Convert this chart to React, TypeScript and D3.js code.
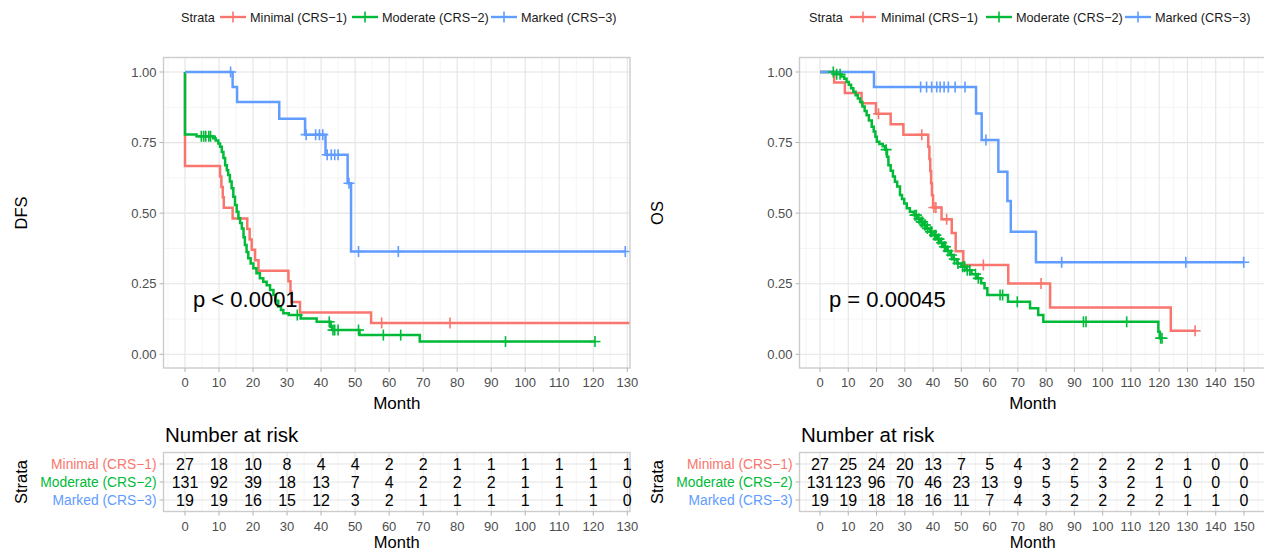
import React from 'react';
import * as d3 from 'd3';

const FONT = "'Liberation Sans', Arial, Helvetica, sans-serif";
const COLORS = ['#F8766D', '#00BA38', '#619CFF'];
const STRATA = ['Minimal (CRS\u22121)', 'Moderate (CRS\u22122)', 'Marked (CRS\u22123)'];

// ---------- DFS ----------
const dfsMinimalTimes = [0, 10.3, 10.7, 11.1, 11.4, 14.0, 18.3, 19.0, 19.6, 20.6, 21.6, 30.4, 31.0, 31.3, 33.8, 54.7];
const dfsMinimalSurv = [0.667, 0.630, 0.593, 0.556, 0.519, 0.481, 0.444, 0.407, 0.370, 0.333, 0.296, 0.259, 0.222, 0.185, 0.148, 0.111];
const dfsMinimalCensor = [57.8, 77.9];
const dfsMinimalEnd = 140;

const dfsModerateTimes = [0, 3.4, 8.3, 9.0, 9.8, 10.3, 10.8, 11.3, 11.8, 12.3, 12.7, 13.2, 13.7, 14.2, 14.7, 15.2, 15.7, 16.2, 16.7, 17.2, 17.6, 18.1, 18.6, 19.3, 20.1, 21.0, 22.0, 23.0, 24.0, 25.0, 26.0, 26.7, 27.4, 28.2, 28.9, 30.5, 34.0, 38.7, 42.8, 43.2, 51.3, 69.0];
const dfsModerateSurv = [0.779, 0.772, 0.765, 0.757, 0.747, 0.735, 0.717, 0.695, 0.670, 0.652, 0.635, 0.612, 0.588, 0.558, 0.529, 0.505, 0.482, 0.465, 0.446, 0.415, 0.387, 0.362, 0.340, 0.322, 0.305, 0.287, 0.269, 0.257, 0.245, 0.228, 0.210, 0.190, 0.169, 0.157, 0.145, 0.139, 0.127, 0.115, 0.098, 0.086, 0.068, 0.045];
const dfsModerateCensor = [4.8, 5.5, 6.1, 7.0, 7.5, 33.0, 42.4, 43.5, 44.0, 45.0, 51.0, 58.3, 63.4, 94.2, 120.5];
const dfsModerateEnd = 120.5;

const dfsMarkedTimes = [14.0, 15.3, 27.7, 35.3, 41.3, 47.8, 48.8];
const dfsMarkedSurv = [0.947, 0.894, 0.834, 0.778, 0.707, 0.606, 0.364];
const dfsMarkedCensor = [13.4, 35.6, 38.4, 39.5, 40.5, 41.8, 43.0, 44.0, 45.0, 48.2, 51.0, 62.7, 129.4];
const dfsMarkedEnd = 129.4;

const dfsRiskTimes = [0, 10, 20, 30, 40, 50, 60, 70, 80, 90, 100, 110, 120, 130];
const dfsRiskMinimal = [27, 18, 10, 8, 4, 4, 2, 2, 1, 1, 1, 1, 1, 1];
const dfsRiskModerate = [131, 92, 39, 18, 13, 7, 4, 2, 2, 2, 1, 1, 1, 0];
const dfsRiskMarked = [19, 19, 16, 15, 12, 3, 2, 1, 1, 1, 1, 1, 1, 0];

// ---------- OS ----------
const osMinimalTimes = [5.0, 8.8, 14.7, 19.8, 25.0, 29.5, 38.3, 38.7, 39.0, 39.3, 39.6, 40.0, 43.0, 46.6, 48.0, 50.7, 66.6, 81.4, 124.1];
const osMinimalSurv = [0.963, 0.926, 0.889, 0.852, 0.815, 0.778, 0.735, 0.692, 0.649, 0.606, 0.563, 0.520, 0.478, 0.430, 0.365, 0.316, 0.251, 0.166, 0.083];
const osMinimalCensor = [20.7, 36.0, 40.3, 41.0, 44.8, 57.8, 78.2, 132.7];
const osMinimalEnd = 132.7;

const osModerateTimes = [5.5, 7.5, 8.6, 9.4, 10.2, 11.0, 11.8, 12.6, 13.4, 14.2, 15.0, 15.8, 16.5, 17.3, 18.3, 19.0, 19.6, 20.1, 21.0, 22.2, 23.0, 23.7, 24.2, 25.0, 25.8, 26.5, 27.3, 28.3, 29.0, 29.8, 30.7, 31.8, 33.2, 34.5, 35.5, 36.6, 37.6, 38.8, 40.1, 41.4, 42.4, 43.6, 44.9, 46.1, 47.2, 48.4, 50.0, 51.9, 53.6, 55.4, 57.0, 58.2, 59.2, 66.5, 74.3, 77.2, 79.0, 119.7, 120.2];
const osModerateSurv = [0.992, 0.984, 0.976, 0.965, 0.955, 0.942, 0.930, 0.918, 0.906, 0.894, 0.878, 0.862, 0.847, 0.828, 0.806, 0.789, 0.771, 0.753, 0.745, 0.737, 0.725, 0.700, 0.670, 0.650, 0.630, 0.611, 0.594, 0.564, 0.550, 0.534, 0.517, 0.505, 0.493, 0.480, 0.469, 0.458, 0.446, 0.434, 0.422, 0.408, 0.395, 0.381, 0.366, 0.352, 0.337, 0.322, 0.310, 0.298, 0.284, 0.269, 0.252, 0.234, 0.210, 0.186, 0.163, 0.139, 0.115, 0.080, 0.057];
const osModerateCensor = [4.7, 5.9, 7.1, 23.4, 33.6, 34.1, 35.0, 35.8, 36.3, 37.0, 37.3, 38.0, 39.1, 39.5, 40.5, 41.0, 41.8, 42.1, 43.0, 44.0, 44.4, 45.3, 46.5, 47.5, 48.8, 50.5, 51.2, 52.1, 53.0, 55.0, 56.0, 63.7, 64.6, 69.8, 93.2, 94.1, 108.5, 120.5, 121.0];
const osModerateEnd = 121.0;

const osMarkedTimes = [19.1, 55.2, 57.2, 63.1, 66.3, 67.5, 76.4];
const osMarkedSurv = [0.947, 0.853, 0.759, 0.647, 0.543, 0.434, 0.326];
const osMarkedCensor = [35.6, 37.7, 39.5, 41.3, 42.5, 43.9, 45.4, 47.8, 51.3, 58.7, 85.5, 129.4, 149.9];
const osMarkedEnd = 149.9;

const osRiskTimes = [0, 10, 20, 30, 40, 50, 60, 70, 80, 90, 100, 110, 120, 130, 140, 150];
const osRiskMinimal = [27, 25, 24, 20, 13, 7, 5, 4, 3, 2, 2, 2, 2, 1, 0, 0];
const osRiskModerate = [131, 123, 96, 70, 46, 23, 13, 9, 5, 5, 3, 2, 1, 0, 0, 0];
const osRiskMarked = [19, 19, 18, 18, 16, 11, 7, 4, 3, 2, 2, 2, 2, 1, 1, 0];

const Y_TICKS = [0, 0.25, 0.5, 0.75, 1];

type Curve = { times: number[]; surv: number[]; censor: number[]; end: number };

function survAt(c: Curve, t: number) {
  let s = 1;
  c.times.forEach((ti, i) => {
    if (ti <= t) s = c.surv[i];
  });
  return s;
}

type PanelProps = {
  id: string;
  curves: Curve[];
  riskTimes: number[];
  risk: number[][];
  xMax: number;
  px0: number;
  pxMax: number;
  panelL: number;
  panelR: number;
  yTitle: string;
  pText: string;
  legendX: number[];
};

const MAIN_TOP = 57.5;
const MAIN_BOT = 368;
const TAB_TOP = 452.5;
const TAB_BOT = 511.5;
const ROWS_Y = [464, 482, 500];

function Panel(p: PanelProps) {
  const x = d3.scaleLinear().domain([0, p.xMax]).range([p.px0, p.pxMax]);
  const y = d3.scaleLinear().domain([0, 1]).range([354.3, 72]);
  const majorX = d3.range(0, p.xMax + 0.1, 10);
  const minorX = d3.range(-5, p.xMax + 10, 10).filter((v) => x(v) > p.panelL && x(v) < p.panelR);
  const minorY = [0.125, 0.375, 0.625, 0.875];
  const line = d3
    .line<[number, number]>()
    .x((d) => x(d[0]))
    .y((d) => y(d[1]))
    .curve(d3.curveStepAfter);
  const midX = (p.panelL + p.panelR) / 2;
  const gridMajor = '#e4e4e4';
  const gridMinor = '#f0f0f0';
  const border = '#cccccc';
  const tickCol = '#4d4d4d';
  return (
    <g>
      <defs>
        <clipPath id={`clip-${p.id}`}>
          <rect x={p.panelL} y={MAIN_TOP} width={p.panelR - p.panelL} height={MAIN_BOT - MAIN_TOP} />
        </clipPath>
      </defs>
      {/* legend */}
      <g fontFamily={FONT} fontSize={12.7} fill="#1a1a1a">
        <text x={p.legendX[0]} y={21.5}>Strata</text>
        {STRATA.map((s, i) => {
          const kx = p.legendX[1 + i * 2];
          const tx = p.legendX[2 + i * 2];
          return (
            <g key={s}>
              <line x1={kx} x2={kx + 26} y1={17} y2={17} stroke={COLORS[i]} strokeWidth={2.4} />
              <line x1={kx + 13} x2={kx + 13} y1={11.5} y2={22.5} stroke={COLORS[i]} strokeWidth={1.6} />
              <text x={tx} y={21.5}>{s}</text>
            </g>
          );
        })}
      </g>
      {/* main panel */}
      <rect x={p.panelL} y={MAIN_TOP} width={p.panelR - p.panelL} height={MAIN_BOT - MAIN_TOP} fill="#fff" />
      <g clipPath={`url(#clip-${p.id})`}>
        {minorX.map((v) => (
          <line key={'mx' + v} x1={x(v)} x2={x(v)} y1={MAIN_TOP} y2={MAIN_BOT} stroke={gridMinor} strokeWidth={0.7} />
        ))}
        {minorY.map((v) => (
          <line key={'my' + v} x1={p.panelL} x2={p.panelR} y1={y(v)} y2={y(v)} stroke={gridMinor} strokeWidth={0.7} />
        ))}
        {majorX.map((v) => (
          <line key={'Mx' + v} x1={x(v)} x2={x(v)} y1={MAIN_TOP} y2={MAIN_BOT} stroke={gridMajor} strokeWidth={1.1} />
        ))}
        {Y_TICKS.map((v) => (
          <line key={'My' + v} x1={p.panelL} x2={p.panelR} y1={y(v)} y2={y(v)} stroke={gridMajor} strokeWidth={1.1} />
        ))}
        {p.curves.map((c, i) => {
          const pts: [number, number][] = [[0, 1]];
          c.times.forEach((t, j) => pts.push([t, c.surv[j]]));
          pts.push([c.end, c.surv[c.surv.length - 1]]);
          return <path key={'c' + i} d={line(pts) || ''} fill="none" stroke={COLORS[i]} strokeWidth={2.5} />;
        })}
        {p.curves.map((c, i) =>
          c.censor.map((t, j) => {
            const cx = x(t);
            const cy = y(survAt(c, t));
            return (
              <g key={'cn' + i + '-' + j} stroke={COLORS[i]} strokeWidth={1.6}>
                <line x1={cx - 5.5} x2={cx + 5.5} y1={cy} y2={cy} />
                <line x1={cx} x2={cx} y1={cy - 5.5} y2={cy + 5.5} />
              </g>
            );
          })
        )}
      </g>
      <rect x={p.panelL} y={MAIN_TOP} width={p.panelR - p.panelL} height={MAIN_BOT - MAIN_TOP} fill="none" stroke={border} strokeWidth={1.4} />
      {/* axes */}
      <g fontFamily={FONT} fontSize={13} fill={tickCol}>
        {Y_TICKS.map((v) => (
          <g key={'yt' + v}>
            <line x1={p.panelL - 4} x2={p.panelL} y1={y(v)} y2={y(v)} stroke="#b3b3b3" strokeWidth={1} />
            <text x={p.panelL - 7} y={y(v) + 4.6} textAnchor="end">{d3.format('.2f')(v)}</text>
          </g>
        ))}
        {majorX.map((v) => (
          <g key={'xt' + v}>
            <line x1={x(v)} x2={x(v)} y1={MAIN_BOT} y2={MAIN_BOT + 4} stroke="#b3b3b3" strokeWidth={1} />
            <text x={x(v)} y={386.8} textAnchor="middle">{v}</text>
          </g>
        ))}
      </g>
      <text x={midX} y={409} fontFamily={FONT} fontSize={17} textAnchor="middle" fill="#000">Month</text>
      <text transform={`translate(${p.panelL - 137},213) rotate(-90)`} fontFamily={FONT} fontSize={16.5} textAnchor="middle" fill="#000">{p.yTitle}</text>
      <text x={p.panelL + 29.5} y={307} fontFamily={FONT} fontSize={22} fill="#000">{p.pText}</text>

      {/* risk table */}
      <text x={p.panelL + 1.5} y={442} fontFamily={FONT} fontSize={20.5} fill="#000">Number at risk</text>
      <rect x={p.panelL} y={TAB_TOP} width={p.panelR - p.panelL} height={TAB_BOT - TAB_TOP} fill="#fff" />
      <g>
        {minorX.map((v) => (
          <line key={'tmx' + v} x1={x(v)} x2={x(v)} y1={TAB_TOP} y2={TAB_BOT} stroke={gridMinor} strokeWidth={0.7} />
        ))}
        {majorX.map((v) => (
          <line key={'tMx' + v} x1={x(v)} x2={x(v)} y1={TAB_TOP} y2={TAB_BOT} stroke={gridMajor} strokeWidth={1.1} />
        ))}
        {ROWS_Y.map((ry) => (
          <line key={'tr' + ry} x1={p.panelL} x2={p.panelR} y1={ry} y2={ry} stroke={gridMajor} strokeWidth={1.1} />
        ))}
      </g>
      <rect x={p.panelL} y={TAB_TOP} width={p.panelR - p.panelL} height={TAB_BOT - TAB_TOP} fill="none" stroke={border} strokeWidth={1.4} />
      <g fontFamily={FONT} fontSize={16} fill="#000" textAnchor="middle">
        {p.risk.map((row, i) =>
          row.map((n, j) => (
            <text key={'n' + i + '-' + j} x={x(p.riskTimes[j])} y={ROWS_Y[i] + 5.8}>{n}</text>
          ))
        )}
      </g>
      <g fontFamily={FONT} fontSize={13.8} textAnchor="end">
        {STRATA.map((s, i) => (
          <g key={'sl' + i}>
            <line x1={p.panelL - 4} x2={p.panelL} y1={ROWS_Y[i]} y2={ROWS_Y[i]} stroke="#b3b3b3" strokeWidth={1} />
            <text x={p.panelL - 7} y={ROWS_Y[i] + 4.9} fill={COLORS[i]}>{s}</text>
          </g>
        ))}
      </g>
      <g fontFamily={FONT} fontSize={13} fill={tickCol} textAnchor="middle">
        {majorX.map((v) => (
          <g key={'txt' + v}>
            <line x1={x(v)} x2={x(v)} y1={TAB_BOT} y2={TAB_BOT + 4} stroke="#b3b3b3" strokeWidth={1} />
            <text x={x(v)} y={530.5}>{v}</text>
          </g>
        ))}
      </g>
      <text x={midX} y={547.5} fontFamily={FONT} fontSize={16.5} textAnchor="middle" fill="#000">Month</text>
      <text transform={`translate(${p.panelL - 137},482) rotate(-90)`} fontFamily={FONT} fontSize={16.5} textAnchor="middle" fill="#000">Strata</text>
    </g>
  );
}

export default function App() {
  const dfsCurves: Curve[] = [
    { times: dfsMinimalTimes, surv: dfsMinimalSurv, censor: dfsMinimalCensor, end: dfsMinimalEnd },
    { times: dfsModerateTimes, surv: dfsModerateSurv, censor: dfsModerateCensor, end: dfsModerateEnd },
    { times: dfsMarkedTimes, surv: dfsMarkedSurv, censor: dfsMarkedCensor, end: dfsMarkedEnd },
  ];
  const osCurves: Curve[] = [
    { times: osMinimalTimes, surv: osMinimalSurv, censor: osMinimalCensor, end: osMinimalEnd },
    { times: osModerateTimes, surv: osModerateSurv, censor: osModerateCensor, end: osModerateEnd },
    { times: osMarkedTimes, surv: osMarkedSurv, censor: osMarkedCensor, end: osMarkedEnd },
  ];
  return (
    <svg
      width={1264}
      height={552}
      style={{ position: 'absolute', left: 0, top: 0, background: '#fff' }}
    >
      <rect x={0} y={0} width={1264} height={552} fill="#fff" />
      <Panel
        id="dfs"
        curves={dfsCurves}
        riskTimes={dfsRiskTimes}
        risk={[dfsRiskMinimal, dfsRiskModerate, dfsRiskMarked]}
        xMax={130}
        px0={185}
        pxMax={627.3}
        panelL={163.5}
        panelR={630}
        yTitle="DFS"
        pText="p < 0.0001"
        legendX={[181, 220, 250, 352, 382, 491, 521]}
      />
      <Panel
        id="os"
        curves={osCurves}
        riskTimes={osRiskTimes}
        risk={[osRiskMinimal, osRiskModerate, osRiskMarked]}
        xMax={150}
        px0={820}
        pxMax={1244}
        panelL={799.5}
        panelR={1266}
        yTitle="OS"
        pText="p = 0.00045"
        legendX={[809, 850, 881, 986, 1016, 1125, 1155]}
      />
    </svg>
  );
}
